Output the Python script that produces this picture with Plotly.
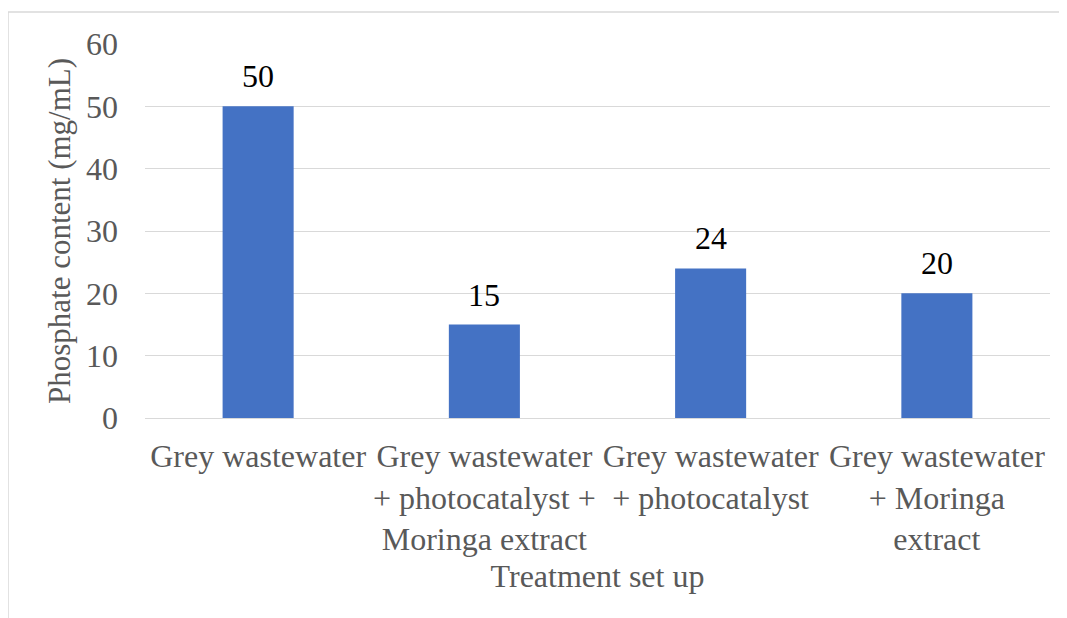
import plotly.graph_objects as go

categories = [
    "Grey wastewater",
    "Grey wastewater<br>+ photocatalyst +<br>Moringa extract",
    "Grey wastewater<br>+ photocatalyst",
    "Grey wastewater<br>+ Moringa<br>extract",
]
values = [50, 15, 24, 20]
y_ticks = [0, 10, 20, 30, 40, 50, 60]

W, H = 1067, 618
OFF = 8  # page body margin
ml, mr, mt, mb = 145 - OFF, 17 + OFF, 44 - OFF, 200 + OFF
pw, ph = W - ml - mr, H - mt - mb

def px(x):
    return (x - OFF - ml) / pw

def py(y):
    return (H - mb - (y - OFF)) / ph

font_family = "Liberation Serif, Times New Roman, serif"
grey = "#595959"
FS = 32

fig = go.Figure(
    go.Bar(
        x=categories,
        y=values,
        marker=dict(color="#4472C4", line=dict(width=0)),
        width=0.314,
        hoverinfo="x+y",
    )
)

for c, v in zip(categories, values):
    fig.add_annotation(
        x=c, y=v, xref="x", yref="y",
        text=str(v), showarrow=False,
        yanchor="bottom", yshift=10,
        font=dict(family=font_family, size=FS, color="#000000"),
    )

fig.update_layout(
    width=W,
    height=H,
    margin=dict(l=ml, r=mr, t=mt, b=mb),
    plot_bgcolor="white",
    paper_bgcolor="white",
    showlegend=False,
    font=dict(family=font_family, size=FS, color=grey),
    xaxis=dict(
        title=dict(text="Treatment set up", font=dict(size=FS, color=grey), standoff=8),
        tickfont=dict(size=FS, color=grey),
        showgrid=False,
        showline=False,
        ticks="",
        ticklabelstandoff=16,
    ),
    yaxis=dict(
        title=dict(text="Phosphate content (mg/mL)", font=dict(size=31, color=grey), standoff=6),
        range=[0, 60],
        tickvals=y_ticks,
        tickfont=dict(size=FS, color=grey),
        showgrid=True,
        gridcolor="#d9d9d9",
        gridwidth=1,
        zeroline=True,
        zerolinecolor="#d9d9d9",
        zerolinewidth=1,
        showline=False,
        ticks="",
        ticklabelstandoff=26,
    ),
    shapes=[
        dict(type="line", xref="paper", yref="paper",
             x0=px(8), x1=px(W + 20), y0=py(12), y1=py(12),
             line=dict(color="#d9d9d9", width=1.5)),
        dict(type="line", xref="paper", yref="paper",
             x0=px(8), x1=px(8), y0=py(12), y1=py(H + 20),
             line=dict(color="#d9d9d9", width=1.5)),
    ],
)

fig.write_html("out.html")
